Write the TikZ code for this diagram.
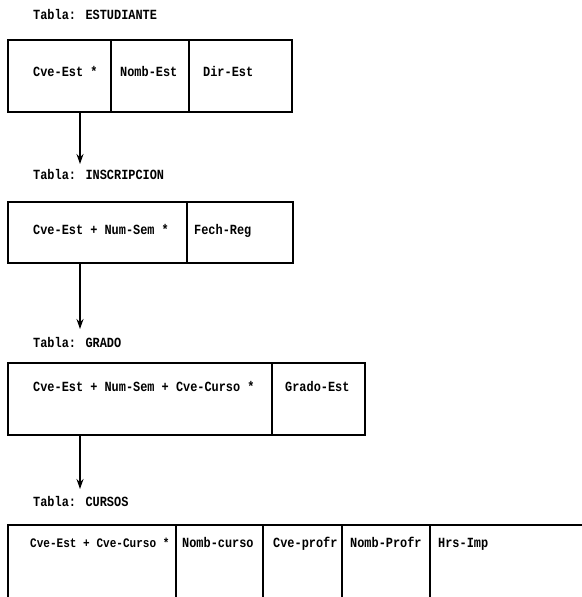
\documentclass[tikz,border=0pt]{standalone}
\usepackage{fontspec}
\setmainfont[FakeStretch=0.85]{Liberation Mono}
\usetikzlibrary{arrows.meta}
\begin{document}
\begin{tikzpicture}[x=1pt,y=-1pt,
  every node/.style={font=\fontsize{14}{16}\selectfont\bfseries, inner sep=0pt},
  cell/.style={draw, line width=1.3pt, rectangle},
  lbl/.style={anchor=west, text height=9.2pt, text depth=0pt},
  link/.style={line width=1.3pt, -{Stealth[length=10pt,width=7pt]}}]
\useasboundingbox (0,0) rectangle (581,597);

% Table 1
\node[lbl] (h1) at (33,15) {Tabla: ESTUDIANTE};
\node[cell, minimum width=103pt, minimum height=72pt] (c11) at (59.5,76) {};
\node[cell, minimum width=78pt, minimum height=72pt] (c12) at (150,76) {};
\node[cell, minimum width=103pt, minimum height=72pt] (c13) at (240.5,76) {};
\node[lbl] (x11) at (33,72) {Cve-Est *};
\node[lbl] (x12) at (120,72) {Nomb-Est};
\node[lbl] (x13) at (203,72) {Dir-Est};

% Table 2
\node[lbl] (h2) at (33,175) {Tabla: INSCRIPCION};
\node[cell, minimum width=179pt, minimum height=61pt] (c21) at (97.5,232.5) {};
\node[cell, minimum width=106pt, minimum height=61pt] (c22) at (240,232.5) {};
\node[lbl] (x21) at (33,230) {Cve-Est + Num-Sem *};
\node[lbl] (x22) at (194,230) {Fech-Reg};

% Table 3
\node[lbl] (h3) at (33,343) {Tabla: GRADO};
\node[cell, minimum width=264pt, minimum height=72pt] (c31) at (140,399) {};
\node[cell, minimum width=93pt, minimum height=72pt] (c32) at (318.5,399) {};
\node[lbl] (x31) at (33,387) {Cve-Est + Num-Sem + Cve-Curso *};
\node[lbl] (x32) at (285,387) {Grado-Est};

% Table 4
\node[lbl] (h4) at (33,502) {Tabla: CURSOS};
\node[cell, minimum width=168pt, minimum height=90pt] (c41) at (92,570) {};
\node[cell, minimum width=87pt, minimum height=90pt] (c42) at (219.5,570) {};
\node[cell, minimum width=79pt, minimum height=90pt] (c43) at (302.5,570) {};
\node[cell, minimum width=88pt, minimum height=90pt] (c44) at (386,570) {};
\node[cell, minimum width=170pt, minimum height=90pt] (c45) at (515,570) {};
\node[lbl, font=\fontsize{13}{15}\selectfont\bfseries] (x41) at (30,543) {Cve-Est + Cve-Curso *};
\node[lbl] (x42) at (182,543) {Nomb-curso};
\node[lbl] (x43) at (273,543) {Cve-profr};
\node[lbl] (x44) at (350,543) {Nomb-Profr};
\node[lbl] (x45) at (438,543) {Hrs-Imp};

% connectors
\coordinate (e1) at (80,164);
\coordinate (e2) at (80,329);
\coordinate (e3) at (80,489);
\draw[link] (c11.south -| e1) -- (e1);
\draw[link] (c21.south -| e2) -- (e2);
\draw[link] (c31.south -| e3) -- (e3);
\end{tikzpicture}
\end{document}
